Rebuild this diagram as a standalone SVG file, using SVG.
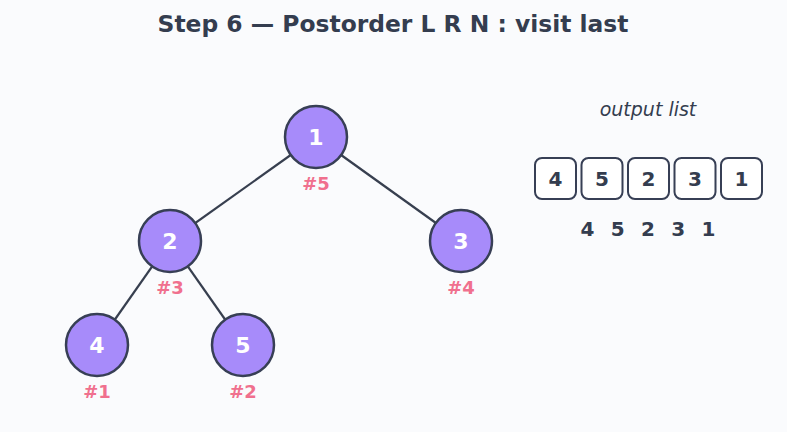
<svg xmlns="http://www.w3.org/2000/svg" width="787" height="432" viewBox="0 0 787 432">
<style>
text{font-family:"DejaVu Sans","Liberation Sans",sans-serif}
.title{font-size:23.4px;font-weight:bold;fill:#343d4f}
.node circle{fill:#a78bfa;stroke:#373f55;stroke-width:2.5}
.node text.v{font-size:22px;font-weight:bold;fill:#ffffff}
.node text.o{font-size:18px;font-weight:bold;fill:#f0708e}
.edges line{stroke:#373f4f;stroke-width:2.2}
.box rect{fill:#ffffff;stroke:#373f55;stroke-width:2}
.box text{font-size:20px;font-weight:bold;fill:#343d4f}
.cap{font-size:19px;font-style:italic;fill:#343d4f}
.seq{font-size:20px;font-weight:bold;fill:#343d4f;word-spacing:1.2px}
</style>
<rect width="787" height="432" fill="#fafbfd"/>
<text class="title" x="393" y="32" text-anchor="middle">Step 6 — Postorder L R N : visit last</text>
<g class="edges">
<line x1="316" y1="137" x2="170" y2="241"/>
<line x1="316" y1="137" x2="461" y2="241"/>
<line x1="170" y1="241" x2="97" y2="345"/>
<line x1="170" y1="241" x2="243" y2="345"/>
</g>
<g id="n1" class="node"><circle cx="316" cy="137" r="31"/><text class="v" x="316" y="145" text-anchor="middle">1</text><text class="o" x="316" y="190" text-anchor="middle">#5</text></g>
<g id="n2" class="node"><circle cx="170" cy="241" r="31"/><text class="v" x="170" y="249" text-anchor="middle">2</text><text class="o" x="170" y="294" text-anchor="middle">#3</text></g>
<g id="n3" class="node"><circle cx="461" cy="241" r="31"/><text class="v" x="461" y="249" text-anchor="middle">3</text><text class="o" x="461" y="294" text-anchor="middle">#4</text></g>
<g id="n4" class="node"><circle cx="97" cy="345" r="31"/><text class="v" x="97" y="353" text-anchor="middle">4</text><text class="o" x="97" y="398" text-anchor="middle">#1</text></g>
<g id="n5" class="node"><circle cx="243" cy="345" r="31"/><text class="v" x="243" y="353" text-anchor="middle">5</text><text class="o" x="243" y="398" text-anchor="middle">#2</text></g>
<text class="cap" x="648" y="116" text-anchor="middle">output list</text>
<g id="list" class="box">
<rect x="535" y="158" width="41" height="41" rx="7"/><text x="555.5" y="186" text-anchor="middle">4</text>
<rect x="581.5" y="158" width="41" height="41" rx="7"/><text x="602" y="186" text-anchor="middle">5</text>
<rect x="628" y="158" width="41" height="41" rx="7"/><text x="648.5" y="186" text-anchor="middle">2</text>
<rect x="674.5" y="158" width="41" height="41" rx="7"/><text x="695" y="186" text-anchor="middle">3</text>
<rect x="721" y="158" width="41" height="41" rx="7"/><text x="741.5" y="186" text-anchor="middle">1</text>
</g>
<text class="seq" x="648" y="236" text-anchor="middle" xml:space="preserve">4  5  2  3  1</text>
</svg>
